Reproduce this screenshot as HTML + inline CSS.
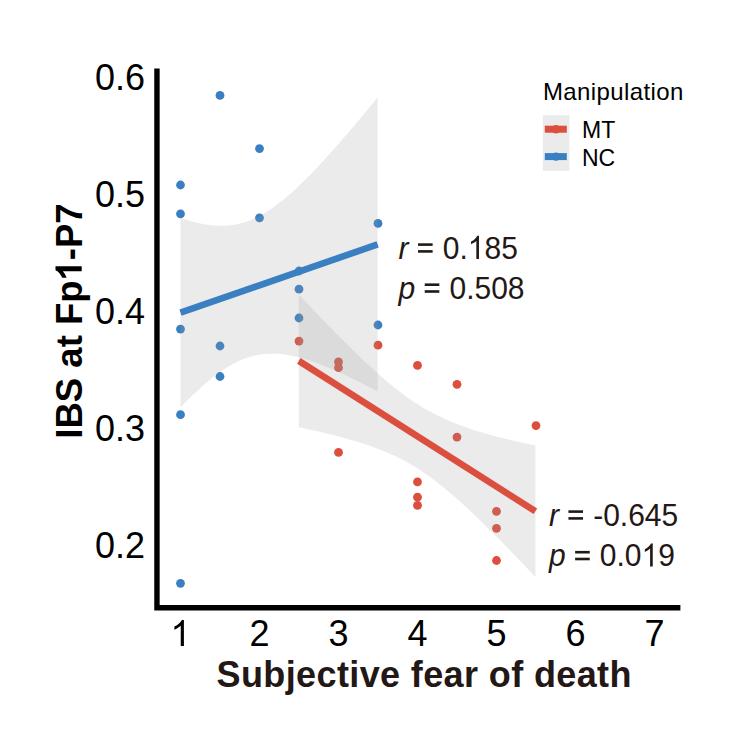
<!DOCTYPE html>
<html><head><meta charset="utf-8"><style>
html,body{margin:0;padding:0;background:#fff;}
svg{display:block;}
text{font-family:"Liberation Sans",sans-serif;}
</style></head><body>
<svg width="733" height="733" viewBox="0 0 733 733">
<rect width="733" height="733" fill="#fff"/>
<g><circle cx="180.50" cy="185" r="4.4" fill="#3a7fc1"/><circle cx="180.50" cy="213.8" r="4.4" fill="#3a7fc1"/><circle cx="180.50" cy="329.1" r="4.4" fill="#3a7fc1"/><circle cx="180.50" cy="414.7" r="4.4" fill="#3a7fc1"/><circle cx="180.50" cy="583.3" r="4.4" fill="#3a7fc1"/><circle cx="220.00" cy="95.4" r="4.4" fill="#3a7fc1"/><circle cx="220.00" cy="346" r="4.4" fill="#3a7fc1"/><circle cx="220.00" cy="376.5" r="4.4" fill="#3a7fc1"/><circle cx="259.50" cy="148.6" r="4.4" fill="#3a7fc1"/><circle cx="259.50" cy="217.8" r="4.4" fill="#3a7fc1"/><circle cx="299.00" cy="271" r="4.4" fill="#3a7fc1"/><circle cx="299.00" cy="289.2" r="4.4" fill="#3a7fc1"/><circle cx="299.00" cy="318" r="4.4" fill="#3a7fc1"/><circle cx="378.00" cy="223.4" r="4.4" fill="#3a7fc1"/><circle cx="378.00" cy="325" r="4.4" fill="#3a7fc1"/><circle cx="299.00" cy="341.05" r="4.4" fill="#dc4e3e"/><circle cx="338.50" cy="361.9" r="4.4" fill="#dc4e3e"/><circle cx="338.50" cy="367.7" r="4.4" fill="#dc4e3e"/><circle cx="338.50" cy="452.4" r="4.4" fill="#dc4e3e"/><circle cx="378.00" cy="345.2" r="4.4" fill="#dc4e3e"/><circle cx="417.50" cy="365.4" r="4.4" fill="#dc4e3e"/><circle cx="417.50" cy="481.9" r="4.4" fill="#dc4e3e"/><circle cx="417.50" cy="497.2" r="4.4" fill="#dc4e3e"/><circle cx="417.50" cy="505.4" r="4.4" fill="#dc4e3e"/><circle cx="457.00" cy="384.3" r="4.4" fill="#dc4e3e"/><circle cx="457.00" cy="437.1" r="4.4" fill="#dc4e3e"/><circle cx="496.50" cy="511.4" r="4.4" fill="#dc4e3e"/><circle cx="496.50" cy="528.3" r="4.4" fill="#dc4e3e"/><circle cx="496.50" cy="560.5" r="4.4" fill="#dc4e3e"/><circle cx="536.00" cy="425.6" r="4.4" fill="#dc4e3e"/></g>
<path d="M298.80,294.57 L302.81,298.82 L306.82,303.06 L310.83,307.29 L314.84,311.49 L318.85,315.68 L322.86,319.84 L326.87,323.99 L330.88,328.11 L334.89,332.20 L338.90,336.27 L342.91,340.30 L346.92,344.30 L350.93,348.26 L354.94,352.19 L358.95,356.06 L362.96,359.89 L366.97,363.66 L370.98,367.37 L374.99,371.02 L379.00,374.60 L383.01,378.10 L387.02,381.52 L391.03,384.86 L395.04,388.09 L399.05,391.23 L403.06,394.26 L407.07,397.18 L411.08,399.99 L415.09,402.67 L419.11,405.24 L423.12,407.69 L427.13,410.03 L431.14,412.25 L435.15,414.35 L439.16,416.35 L443.17,418.25 L447.18,420.04 L451.19,421.75 L455.20,423.38 L459.21,424.92 L463.22,426.40 L467.23,427.80 L471.24,429.15 L475.25,430.44 L479.26,431.68 L483.27,432.87 L487.28,434.02 L491.29,435.13 L495.30,436.21 L499.31,437.25 L503.32,438.27 L507.33,439.25 L511.34,440.21 L515.35,441.15 L519.36,442.07 L523.37,442.97 L527.38,443.85 L531.39,444.72 L535.40,445.57 L535.40,577.03 L531.39,572.78 L527.38,568.55 L523.37,564.33 L519.36,560.14 L515.35,555.96 L511.34,551.80 L507.33,547.66 L503.32,543.55 L499.31,539.46 L495.30,535.41 L491.29,531.39 L487.28,527.40 L483.27,523.45 L479.26,519.55 L475.25,515.69 L471.24,511.88 L467.23,508.13 L463.22,504.43 L459.21,500.81 L455.20,497.26 L451.19,493.78 L447.18,490.39 L443.17,487.09 L439.16,483.89 L435.15,480.79 L431.14,477.80 L427.13,474.92 L423.12,472.15 L419.11,469.51 L415.09,466.98 L411.08,464.57 L407.07,462.27 L403.06,460.10 L399.05,458.03 L395.04,456.07 L391.03,454.21 L387.02,452.44 L383.01,450.76 L379.00,449.16 L374.99,447.65 L370.98,446.20 L366.97,444.81 L362.96,443.48 L358.95,442.21 L354.94,440.99 L350.93,439.81 L346.92,438.68 L342.91,437.58 L338.90,436.51 L334.89,435.48 L330.88,434.48 L326.87,433.50 L322.86,432.55 L318.85,431.61 L314.84,430.70 L310.83,429.81 L306.82,428.93 L302.81,428.07 L298.80,427.23Z" fill="#999" fill-opacity="0.2"/>
<line x1="298.8" y1="360.9" x2="535.4" y2="511.3" stroke="#dc4e3e" stroke-width="6.6"/>
<path d="M180.50,217.83 L183.84,218.95 L187.18,220.01 L190.52,221.00 L193.87,221.91 L197.21,222.74 L200.55,223.49 L203.89,224.14 L207.23,224.70 L210.57,225.15 L213.92,225.48 L217.26,225.70 L220.60,225.79 L223.94,225.75 L227.28,225.57 L230.62,225.25 L233.96,224.78 L237.31,224.15 L240.65,223.36 L243.99,222.42 L247.33,221.31 L250.67,220.04 L254.01,218.61 L257.36,217.03 L260.70,215.28 L264.04,213.38 L267.38,211.34 L270.72,209.15 L274.06,206.83 L277.40,204.37 L280.75,201.80 L284.09,199.10 L287.43,196.30 L290.77,193.39 L294.11,190.39 L297.45,187.30 L300.79,184.12 L304.14,180.87 L307.48,177.54 L310.82,174.14 L314.16,170.69 L317.50,167.17 L320.84,163.60 L324.19,159.97 L327.53,156.30 L330.87,152.59 L334.21,148.84 L337.55,145.04 L340.89,141.22 L344.23,137.36 L347.58,133.46 L350.92,129.54 L354.26,125.60 L357.60,121.62 L360.94,117.63 L364.28,113.61 L367.63,109.57 L370.97,105.51 L374.31,101.44 L377.65,97.34 L377.65,391.46 L374.31,389.68 L370.97,387.91 L367.63,386.16 L364.28,384.44 L360.94,382.73 L357.60,381.05 L354.26,379.39 L350.92,377.75 L347.58,376.14 L344.23,374.56 L340.89,373.01 L337.55,371.50 L334.21,370.02 L330.87,368.58 L327.53,367.17 L324.19,365.82 L320.84,364.50 L317.50,363.24 L314.16,362.04 L310.82,360.89 L307.48,359.81 L304.14,358.79 L300.79,357.85 L297.45,356.99 L294.11,356.20 L290.77,355.51 L287.43,354.92 L284.09,354.43 L280.75,354.05 L277.40,353.78 L274.06,353.64 L270.72,353.63 L267.38,353.75 L264.04,354.02 L260.70,354.43 L257.36,355.00 L254.01,355.72 L250.67,356.61 L247.33,357.65 L243.99,358.86 L240.65,360.22 L237.31,361.75 L233.96,363.43 L230.62,365.27 L227.28,367.26 L223.94,369.39 L220.60,371.67 L217.26,374.07 L213.92,376.60 L210.57,379.25 L207.23,382.01 L203.89,384.88 L200.55,387.84 L197.21,390.90 L193.87,394.04 L190.52,397.27 L187.18,400.57 L183.84,403.94 L180.50,407.37Z" fill="#999" fill-opacity="0.2"/>
<line x1="180.5" y1="312.6" x2="377.65" y2="244.4" stroke="#3a7fc1" stroke-width="6.6"/>
<path d="M156.95,68.5 V607.75 H680.4" fill="none" stroke="#000" stroke-width="5.4" stroke-linejoin="miter" stroke-linecap="butt"/>
<g font-size="36" fill="#000"><text x="145" y="90.1" text-anchor="end">0.6</text><text x="145" y="207.1" text-anchor="end">0.5</text><text x="145" y="324" text-anchor="end">0.4</text><text x="145" y="440.9" text-anchor="end">0.3</text><text x="145" y="557.8" text-anchor="end">0.2</text><text x="259.50" y="646" text-anchor="middle">2</text><text x="338.50" y="646" text-anchor="middle">3</text><text x="417.50" y="646" text-anchor="middle">4</text><text x="496.50" y="646" text-anchor="middle">5</text><text x="575.50" y="646" text-anchor="middle">6</text><text x="654.50" y="646" text-anchor="middle">7</text><path transform="translate(170.49,646.00) scale(0.01758,-0.01758)" d="M763 0L583 0L583 1147Q518 1085 412 1023Q306 961 222 930L222 1104Q373 1175 486 1276Q599 1377 646 1472L763 1472Z" fill="#000"/></g>
<text x="216.6" y="686.5" font-size="36" font-weight="bold" letter-spacing="0.38" fill="#231815">Subjective fear of death</text>
<g transform="translate(81.7,321) rotate(-90)"><text id="ytitle" x="0" y="0" text-anchor="middle" font-size="36.5" font-weight="bold" fill="#000">IBS at Fp<tspan fill="transparent">1</tspan>-P7</text><path transform="translate(40.53,0.00) scale(0.01782,-0.01782)" d="M798 0L517 0L517 1059Q363 915 154 846L154 1101Q264 1137 393 1237Q522 1337 570 1470L798 1470Z" fill="#000"/></g>
<g font-size="30" fill="#231815">
<g transform="translate(0,258.9) scale(1,1.07) translate(0,-258.9)"><text id="a1" x="398.6" y="258.9"><tspan font-style="italic">r</tspan> <tspan fill="transparent">=</tspan> 0.<tspan fill="transparent">1</tspan>85</text><path transform="translate(467.79,258.90) scale(0.01465,-0.01465)" d="M763 0L583 0L583 1147Q518 1085 412 1023Q306 961 222 930L222 1104Q373 1175 486 1276Q599 1377 646 1472L763 1472Z" fill="#231815"/></g>
<g transform="translate(0,299) scale(1,1.07) translate(0,-299)"><text id="a2" x="398.6" y="299"><tspan font-style="italic">p</tspan> <tspan fill="transparent">=</tspan> 0.508</text></g>
<g transform="translate(0,525.9) scale(1,1.07) translate(0,-525.9)"><text id="a3" x="549" y="525.9"><tspan font-style="italic">r</tspan> <tspan fill="transparent">=</tspan> -0.645</text></g>
<g transform="translate(0,566.5) scale(1,1.07) translate(0,-566.5)"><text id="a4" x="549" y="566.5"><tspan font-style="italic">p</tspan> <tspan fill="transparent">=</tspan> 0.0<tspan fill="transparent">1</tspan>9</text><path transform="translate(641.56,566.50) scale(0.01465,-0.01465)" d="M763 0L583 0L583 1147Q518 1085 412 1023Q306 961 222 930L222 1104Q373 1175 486 1276Q599 1377 646 1472L763 1472Z" fill="#231815"/></g>
</g>
<rect x="418.03" y="243.30" width="14.6" height="2.6" fill="#231815"/><rect x="418.03" y="250.10" width="14.6" height="2.6" fill="#231815"/><rect x="424.73" y="283.40" width="14.6" height="2.6" fill="#231815"/><rect x="424.73" y="290.20" width="14.6" height="2.6" fill="#231815"/><rect x="568.43" y="510.30" width="14.6" height="2.6" fill="#231815"/><rect x="568.43" y="517.10" width="14.6" height="2.6" fill="#231815"/><rect x="575.13" y="550.90" width="14.6" height="2.6" fill="#231815"/><rect x="575.13" y="557.70" width="14.6" height="2.6" fill="#231815"/>
<text x="543" y="100.2" font-size="24" letter-spacing="0.38" fill="#000">Manipulation</text>
<rect x="542.8" y="115.2" width="26.6" height="55.7" fill="#ebebeb"/>
<line x1="544.8" y1="129.2" x2="566.8" y2="129.2" stroke="#dc4e3e" stroke-width="7"/>
<circle cx="556" cy="129.2" r="4.2" fill="#dc4e3e"/>
<line x1="544.8" y1="156.6" x2="566.8" y2="156.6" stroke="#3a7fc1" stroke-width="7"/>
<circle cx="556" cy="156.6" r="4.2" fill="#3a7fc1"/>
<text x="582" y="138" font-size="23" fill="#000">MT</text>
<text x="582" y="165.5" font-size="23" fill="#000">NC</text>
</svg>
</body></html>
